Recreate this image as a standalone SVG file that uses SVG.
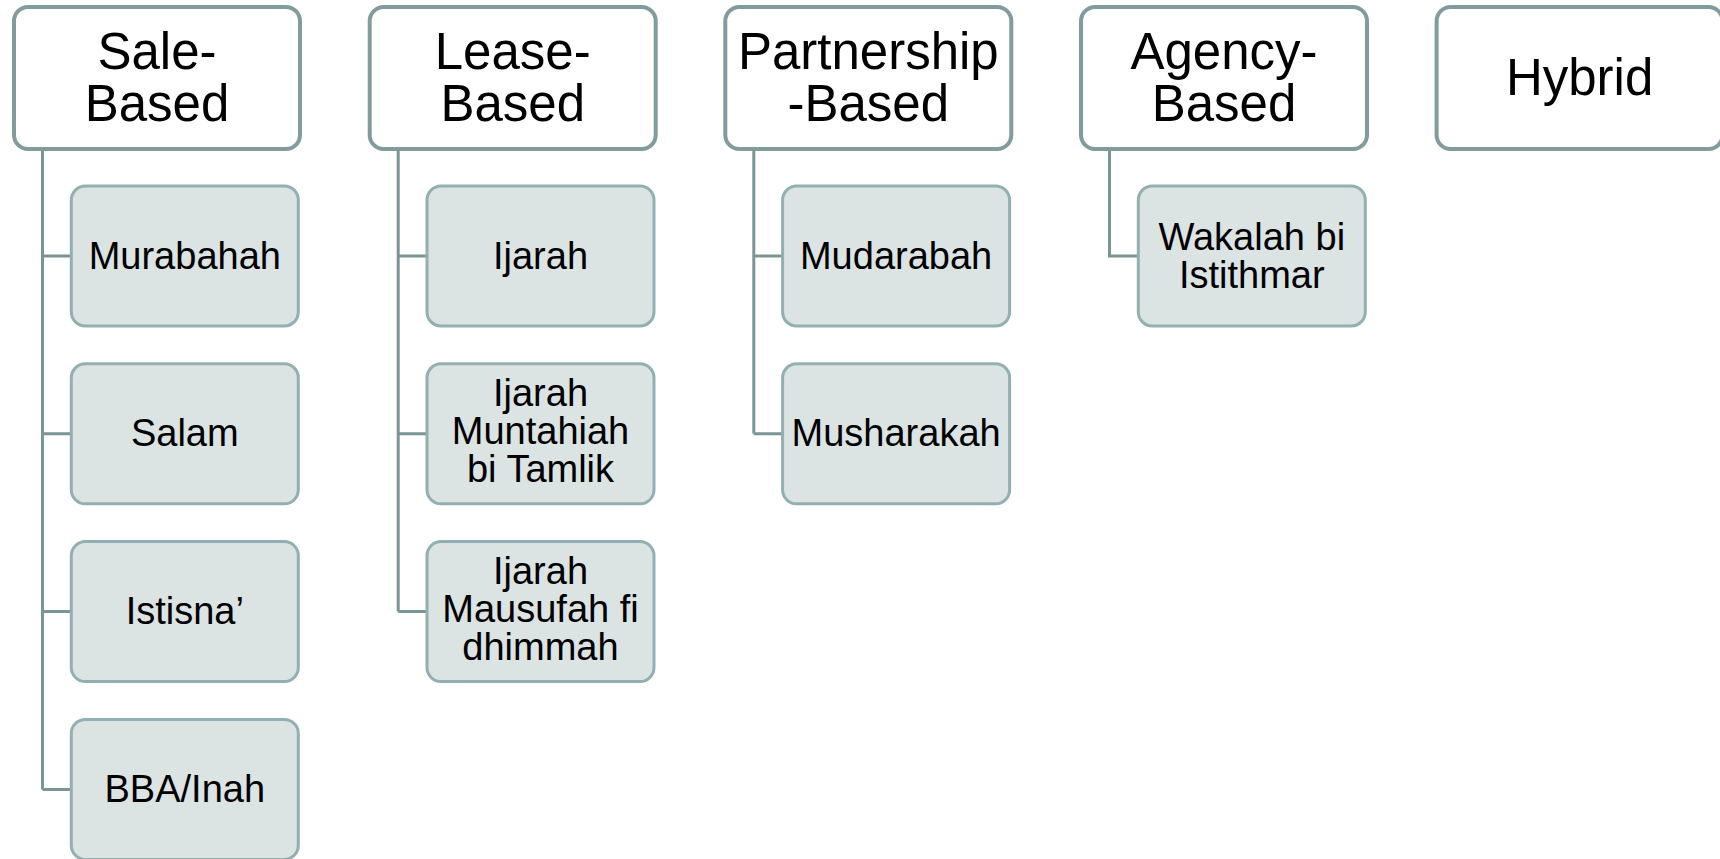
<svg xmlns="http://www.w3.org/2000/svg" width="1720" height="859" viewBox="0 0 1720 859">
<style>
.top{fill:#ffffff;stroke:#829c9d;stroke-width:4}
.child{fill:#dbe3e3;stroke:#92b0b1;stroke-width:3}
.conn{fill:none;stroke:#7b9596;stroke-width:3}
.tt{font-family:"Liberation Sans",Arial,sans-serif;font-size:51px;fill:#000;text-anchor:middle}
.ct{font-family:"Liberation Sans",Arial,sans-serif;font-size:38px;fill:#000;text-anchor:middle}
</style>
<rect width="1720" height="859" fill="#ffffff"/>
<g id="connectors">
<path class="conn" d="M42.5,149 V789.4 M42.5,256 H71.3 M42.5,433.8 H71.3 M42.5,611.6 H71.3 M42.5,789.4 H71.3"/>
<path class="conn" d="M398.2,149 V611.6 M398.2,256 H427 M398.2,433.8 H427 M398.2,611.6 H427"/>
<path class="conn" d="M753.8,149 V433.8 M753.8,256 H782.6 M753.8,433.8 H782.6"/>
<path class="conn" d="M1109.5,149 V256 H1138.3"/>
</g>
<g id="sale-based"><rect class="top" x="14" y="7" width="286" height="142" rx="14"/><text class="tt" x="157" y="68.5">Sale-</text><text class="tt" x="157" y="121">Based</text></g>
<g id="lease-based"><rect class="top" x="369.7" y="7" width="286" height="142" rx="14"/><text class="tt" x="512.7" y="68.5">Lease-</text><text class="tt" x="512.7" y="121">Based</text></g>
<g id="partnership-based"><rect class="top" x="725.3" y="7" width="286" height="142" rx="14"/><text class="tt" x="868.3" y="68.5">Partnership</text><text class="tt" x="868.3" y="121">-Based</text></g>
<g id="agency-based"><rect class="top" x="1081" y="7" width="286" height="142" rx="14"/><text class="tt" x="1224" y="68.5">Agency-</text><text class="tt" x="1224" y="121">Based</text></g>
<g id="hybrid"><rect class="top" x="1436.6" y="7" width="286" height="142" rx="14"/><text class="tt" x="1579.6" y="95">Hybrid</text></g>

<g id="murabahah"><rect class="child" x="71.3" y="186" width="227" height="140" rx="14"/><text class="ct" x="184.8" y="268.5">Murabahah</text></g>
<g id="salam"><rect class="child" x="71.3" y="363.8" width="227" height="140" rx="14"/><text class="ct" x="184.8" y="446.3">Salam</text></g>
<g id="istisna"><rect class="child" x="71.3" y="541.6" width="227" height="140" rx="14"/><text class="ct" x="184.8" y="624.1">Istisna’</text></g>
<g id="bba-inah"><rect class="child" x="71.3" y="719.4" width="227" height="140" rx="14"/><text class="ct" x="184.8" y="801.9">BBA/Inah</text></g>

<g id="ijarah"><rect class="child" x="427" y="186" width="227" height="140" rx="14"/><text class="ct" x="540.5" y="268.5">Ijarah</text></g>
<g id="ijarah-muntahiah"><rect class="child" x="427" y="363.8" width="227" height="140" rx="14"/><text class="ct" x="540.5" y="406.3">Ijarah</text><text class="ct" x="540.5" y="444.3">Muntahiah</text><text class="ct" x="540.5" y="482.3">bi Tamlik</text></g>
<g id="ijarah-mausufah"><rect class="child" x="427" y="541.6" width="227" height="140" rx="14"/><text class="ct" x="540.5" y="584.1">Ijarah</text><text class="ct" x="540.5" y="622.1">Mausufah fi</text><text class="ct" x="540.5" y="660.1">dhimmah</text></g>

<g id="mudarabah"><rect class="child" x="782.6" y="186" width="227" height="140" rx="14"/><text class="ct" x="896.1" y="268.5">Mudarabah</text></g>
<g id="musharakah"><rect class="child" x="782.6" y="363.8" width="227" height="140" rx="14"/><text class="ct" x="896.1" y="446.3">Musharakah</text></g>

<g id="wakalah"><rect class="child" x="1138.3" y="186" width="227" height="140" rx="14"/><text class="ct" x="1251.8" y="249.5">Wakalah bi</text><text class="ct" x="1251.8" y="287.5">Istithmar</text></g>
</svg>
